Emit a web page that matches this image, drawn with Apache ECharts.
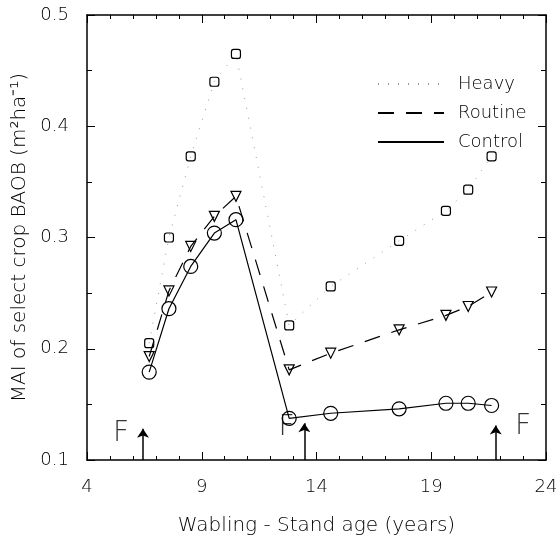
<!DOCTYPE html>
<html><head><meta charset="utf-8">
<script src="https://cdn.jsdelivr.net/npm/echarts/dist/echarts.min.js"></script>
<style>html,body{margin:0;padding:0;background:#fff}#c{width:560px;height:540px}</style>
</head><body><div id="c"></div>
<script>
// Stand age (years) at which each measurement was made
const ages = [6.71, 7.57, 8.52, 9.55, 10.49, 12.81, 14.62, 17.6, 19.64, 20.61, 21.63];
// MAI of select crop BAOB (m2 ha-1)
const heavy   = [0.205, 0.300, 0.373, 0.440, 0.465, 0.221, 0.256, 0.297, 0.324, 0.343, 0.373];
const routine = [0.193, 0.252, 0.292, 0.319, 0.337, 0.181, 0.196, 0.217, 0.230, 0.238, 0.251];
const control = [0.179, 0.236, 0.274, 0.304, 0.316, 0.1375, 0.142, 0.146, 0.151, 0.151, 0.149];
// Fertiliser applications (arrows) and their "F" labels
const fertAges = [6.44, 13.47, 21.81];
const fertTips = [0.128, 0.133, 0.131];
const fLabelAges = [5.48, 12.7, 23.0];
const fLabelVals = [0.124, 0.129, 0.130];
const seriesNames = ['Heavy', 'Routine', 'Control'];

const FONT = 'DejaVu Sans';
const W = 200;
const pair = (ys) => ages.map((a, i) => [a, ys[i]]);
const hollow = { color: 'rgba(0,0,0,0)', borderColor: '#000', borderWidth: 1.2 };

const axisBase = {
  type: 'value',
  axisLine: { show: true, onZero: false, lineStyle: { color: '#000', width: 1.5 } },
  axisTick: { show: true, inside: true, length: 8, lineStyle: { color: '#000', width: 1 } },
  splitLine: { show: false }
};

const chart = echarts.init(document.getElementById('c'));
chart.setOption({
  animation: false,
  backgroundColor: '#fff',
  grid: { left: 87, right: 14, top: 15, bottom: 80, containLabel: false, outerBoundsMode: 'none' },
  legend: {
    data: seriesNames,
    orient: 'vertical',
    left: 372, top: 70,
    itemWidth: 66, itemHeight: 14, itemGap: 11,
    itemStyle: { opacity: 0 },
    textStyle: { fontFamily: FONT, fontWeight: W, fontSize: 18, color: '#000', padding: [0, 0, 0, 9] }
  },
  xAxis: [
    Object.assign({}, axisBase, {
      min: 4, max: 24, interval: 5, position: 'bottom',
      minorTick: { show: true, splitNumber: 5, length: 4, lineStyle: { color: '#000' } },
      axisLabel: { fontFamily: FONT, fontWeight: W, fontSize: 18, color: '#000', margin: 18 },
      name: 'Wabling - Stand age (years)', nameLocation: 'middle', nameGap: 56,
      nameTextStyle: { fontFamily: FONT, fontWeight: W, fontSize: 20, color: '#000' }
    }),
    Object.assign({}, axisBase, {
      min: 4, max: 24, interval: 5, position: 'top',
      minorTick: { show: true, splitNumber: 5, length: 4, lineStyle: { color: '#000' } },
      axisLabel: { show: false }
    })
  ],
  yAxis: [
    Object.assign({}, axisBase, {
      min: 0.1, max: 0.5, interval: 0.1, position: 'left',
      minorTick: { show: true, splitNumber: 2, length: 5, lineStyle: { color: '#000' } },
      axisLabel: { fontFamily: FONT, fontWeight: W, fontSize: 18, color: '#000', margin: 18, formatter: v => v.toFixed(1) },
      name: 'MAI of select crop BAOB (m²ha⁻¹)', nameLocation: 'middle', nameGap: 50,
      nameTextStyle: { fontFamily: FONT, fontWeight: W, fontSize: 20, color: '#000' }
    }),
    Object.assign({}, axisBase, {
      min: 0.1, max: 0.5, interval: 0.1, position: 'right',
      minorTick: { show: true, splitNumber: 2, length: 5, lineStyle: { color: '#000' } },
      axisLabel: { show: false }
    })
  ],
  series: [
    {
      name: 'Heavy', type: 'line', data: pair(heavy),
      symbol: 'roundRect', symbolSize: 9,
      itemStyle: hollow,
      lineStyle: { color: '#999', width: 1, type: [1, 9] }
    },
    {
      name: 'Routine', type: 'line', data: pair(routine),
      symbol: 'triangle', symbolRotate: 180, symbolSize: 10,
      itemStyle: hollow,
      lineStyle: { color: '#000', width: 1.2, type: [16, 12] }
    },
    {
      name: 'Control', type: 'line', data: pair(control),
      symbol: 'circle', symbolSize: 14,
      itemStyle: hollow,
      lineStyle: { color: '#000', width: 1.2, type: 'solid' }
    },
    {
      name: 'fert', type: 'lines', coordinateSystem: 'cartesian2d',
      symbol: ['none', 'arrow'], symbolSize: [0, 9],
      lineStyle: { color: '#000', width: 1.5, opacity: 1 },
      data: fertAges.map((a, i) => ({ coords: [[a, 0.1], [a, fertTips[i]]] }))
    },
    {
      name: 'Flabel', type: 'scatter', symbolSize: 1,
      itemStyle: { color: 'rgba(0,0,0,0)' },
      label: { show: true, position: 'inside', formatter: 'F', fontFamily: FONT, fontWeight: W, fontSize: 28, color: '#000' },
      data: fLabelAges.map((a, i) => [a, fLabelVals[i]])
    }
  ]
});
</script></body></html>
